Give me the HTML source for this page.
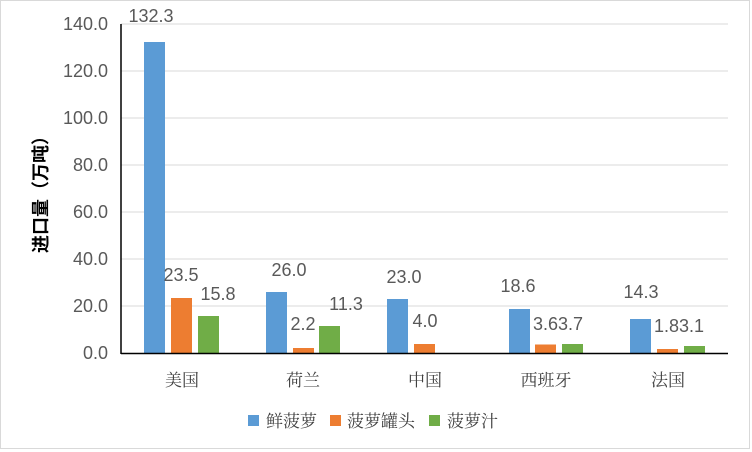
<!DOCTYPE html>
<html><head><meta charset="utf-8"><style>
html,body{margin:0;padding:0;background:#fff}
svg{display:block}
.t{font-family:"Liberation Sans","Noto Sans CJK SC",sans-serif;font-size:18px;fill:#595959}
.c{font-family:"Noto Serif CJK SC","Liberation Serif",serif;font-size:17px;fill:#404040}
</style></head><body>
<svg width="752" height="452" viewBox="0 0 752 452">
<rect x="0.5" y="0.5" width="749" height="448" fill="#fff" stroke="#d9d9d9"/>
<g stroke="#d9d9d9" stroke-width="1">
<line x1="121" x2="728" y1="24" y2="24"/><line x1="121" x2="728" y1="71" y2="71"/>
<line x1="121" x2="728" y1="118" y2="118"/><line x1="121" x2="728" y1="165" y2="165"/>
<line x1="121" x2="728" y1="212" y2="212"/><line x1="121" x2="728" y1="259" y2="259"/>
<line x1="121" x2="728" y1="306" y2="306"/>
</g>
<g class="t" text-anchor="end">
<text x="108" y="30">140.0</text><text x="108" y="77">120.0</text><text x="108" y="124">100.0</text>
<text x="108" y="171">80.0</text><text x="108" y="218">60.0</text><text x="108" y="265">40.0</text>
<text x="108" y="312">20.0</text><text x="108" y="359">0.0</text>
</g>
<text transform="translate(47,190) rotate(-90)" text-anchor="middle" style="font-family:'Liberation Sans','Noto Sans CJK SC',sans-serif;font-size:18px;font-weight:bold;fill:#000">进口量（万吨）</text>
<g>
<rect x="144" y="42" width="21" height="311" fill="#5b9bd5"/>
<rect x="171" y="298" width="21" height="55" fill="#ed7d31"/>
<rect x="198" y="316" width="21" height="37" fill="#70ad47"/>
<rect x="266" y="292" width="21" height="61" fill="#5b9bd5"/>
<rect x="293" y="348" width="21" height="5" fill="#ed7d31"/>
<rect x="319" y="326" width="21" height="27" fill="#70ad47"/>
<rect x="387" y="299" width="21" height="54" fill="#5b9bd5"/>
<rect x="414" y="344" width="21" height="9" fill="#ed7d31"/>
<rect x="509" y="309" width="21" height="44" fill="#5b9bd5"/>
<rect x="535" y="344.5" width="21" height="8.5" fill="#ed7d31"/>
<rect x="562" y="344" width="21" height="9" fill="#70ad47"/>
<rect x="630" y="319" width="21" height="34" fill="#5b9bd5"/>
<rect x="657" y="349" width="21" height="4" fill="#ed7d31"/>
<rect x="684" y="346" width="21" height="7" fill="#70ad47"/>
</g>
<line x1="121" x2="121" y1="24" y2="354" stroke="#000" stroke-width="1.5"/>
<line x1="121" x2="728" y1="353.5" y2="353.5" stroke="#000" stroke-width="1.5"/>
<g class="t" text-anchor="middle">
<text x="151" y="22">132.3</text><text x="181" y="281">23.5</text><text x="218" y="300">15.8</text>
<text x="289" y="276">26.0</text><text x="303" y="330">2.2</text><text x="346" y="310">11.3</text>
<text x="404" y="283">23.0</text><text x="425" y="327">4.0</text>
<text x="518" y="292">18.6</text><text x="558" y="330">3.63.7</text>
<text x="641" y="298">14.3</text><text x="679" y="332">1.83.1</text>
</g>
<g class="c" text-anchor="middle">
<text x="182" y="386">美国</text><text x="303" y="386">荷兰</text><text x="425" y="386">中国</text>
<text x="546" y="386">西班牙</text><text x="668" y="386">法国</text>
</g>
<rect x="248" y="415" width="11" height="11" fill="#5b9bd5"/>
<text class="c" x="266" y="427">鲜菠萝</text>
<rect x="330" y="415" width="11" height="11" fill="#ed7d31"/>
<text class="c" x="347" y="427">菠萝罐头</text>
<rect x="429" y="415" width="11" height="11" fill="#70ad47"/>
<text class="c" x="447" y="427">菠萝汁</text>
</svg>
</body></html>
